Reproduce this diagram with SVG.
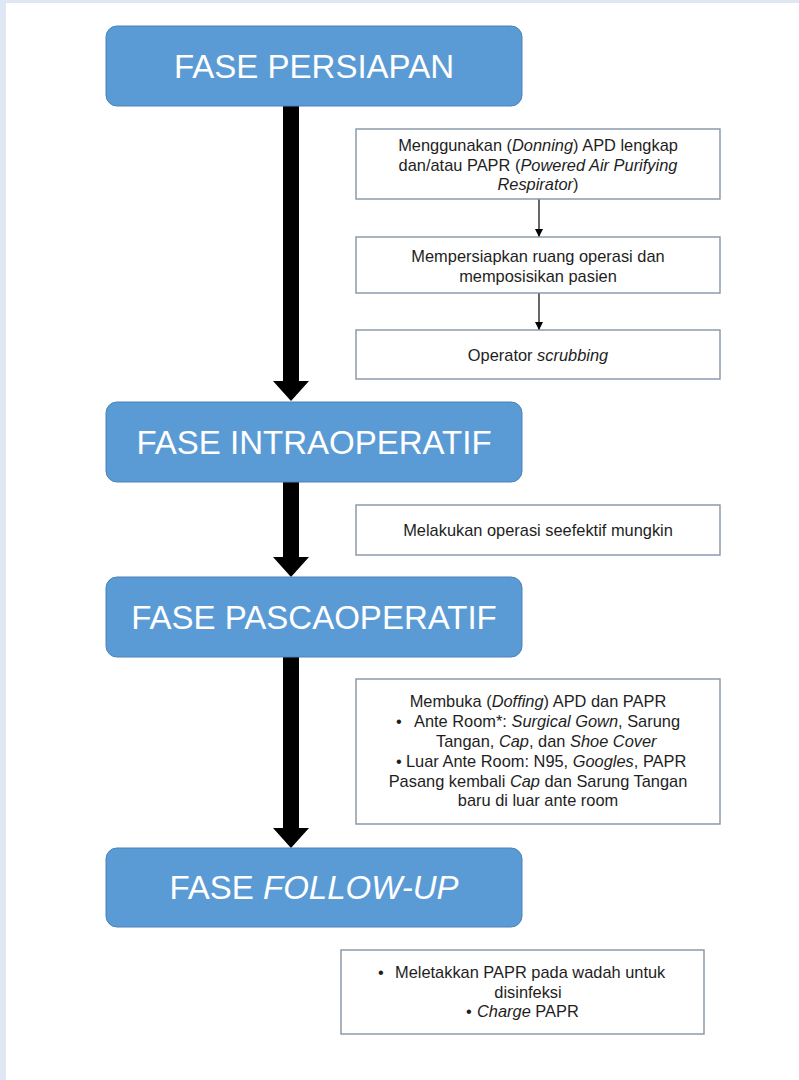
<svg xmlns="http://www.w3.org/2000/svg" width="799" height="1080" viewBox="0 0 799 1080">
<defs>
<style>
.phase rect{fill:#5b9bd5;stroke:#4a82b8;stroke-width:1}
.phase text{font-family:"Liberation Sans",Arial,sans-serif;font-size:33px;fill:#ffffff;text-anchor:middle}
.step rect{fill:#ffffff;stroke:#8494a5;stroke-width:1.4}
.step text{font-family:"Liberation Sans",Arial,sans-serif;font-size:16.4px;fill:#1e1e1e}
.c{text-anchor:middle}
.i{font-style:italic}
.big{fill:#000000}
.thin{stroke:#000000;stroke-width:1.2;fill:none}
</style>
<marker id="ah" viewBox="0 0 10 10" refX="10" refY="5" markerWidth="8" markerHeight="8" markerUnits="userSpaceOnUse" orient="auto">
<path d="M0,0 L10,5 L0,10 Z" fill="#000000"/>
</marker>
</defs>
<rect x="0" y="0" width="799" height="1080" fill="#ffffff"/>
<rect x="0" y="0" width="799" height="3" fill="#dfe7f4"/>
<rect x="0" y="0" width="6" height="1080" fill="#dfe7f4"/>

<g id="connectors">
<path class="big" d="M283,106 H299 V381 H309 L291,401 L273,381 H283 Z"/>
<path class="big" d="M283,482 H299 V557 H309 L291,577 L273,557 H283 Z"/>
<path class="big" d="M283,657 H299 V828 H309 L291,848 L273,828 H283 Z"/>
<line class="thin" x1="539" y1="199" x2="539" y2="237" marker-end="url(#ah)"/>
<line class="thin" x1="539" y1="293" x2="539" y2="330" marker-end="url(#ah)"/>
</g>

<g id="fase-persiapan" class="phase">
<rect x="106" y="26" width="416" height="80" rx="11"/>
<text x="314" y="77.5">FASE PERSIAPAN</text>
</g>
<g id="fase-intraoperatif" class="phase">
<rect x="106" y="402" width="416" height="80" rx="11"/>
<text x="314" y="453.5">FASE INTRAOPERATIF</text>
</g>
<g id="fase-pascaoperatif" class="phase">
<rect x="106" y="577" width="416" height="80" rx="11"/>
<text x="314" y="628.5">FASE PASCAOPERATIF</text>
</g>
<g id="fase-follow-up" class="phase">
<rect x="106" y="848" width="416" height="79" rx="11"/>
<text x="314" y="899">FASE <tspan font-style="italic">FOLLOW-UP</tspan></text>
</g>

<g id="step-donning" class="step">
<rect x="356" y="129" width="364" height="70"/>
<text class="c" x="538" y="151">Menggunakan (<tspan class="i">Donning</tspan>) APD lengkap</text>
<text class="c" x="538" y="170.5">dan/atau PAPR (<tspan class="i">Powered Air Purifying</tspan></text>
<text class="c" x="538" y="190"><tspan class="i">Respirator</tspan>)</text>
</g>
<g id="step-ruang" class="step">
<rect x="356" y="237" width="364" height="56"/>
<text class="c" x="538" y="262">Mempersiapkan ruang operasi dan</text>
<text class="c" x="538" y="282">memposisikan pasien</text>
</g>
<g id="step-scrubbing" class="step">
<rect x="356" y="330" width="364" height="49"/>
<text class="c" x="538" y="361">Operator <tspan class="i">scrubbing</tspan></text>
</g>
<g id="step-operasi" class="step">
<rect x="356" y="505" width="364" height="50"/>
<text class="c" x="538" y="536">Melakukan operasi seefektif mungkin</text>
</g>
<g id="step-doffing" class="step">
<rect x="356" y="679" width="364" height="145"/>
<text class="c" x="538" y="707">Membuka (<tspan class="i">Doffing</tspan>) APD dan PAPR</text>
<text x="396" y="727">•<tspan x="414">Ante Room*: </tspan><tspan class="i">Surgical Gown</tspan>, Sarung</text>
<text x="436" y="746.5">Tangan, <tspan class="i">Cap</tspan>, dan <tspan class="i">Shoe Cover</tspan></text>
<text x="396" y="766.5">•<tspan x="406">Luar Ante Room: N95, </tspan><tspan class="i">Googles</tspan>, PAPR</text>
<text class="c" x="538" y="786.5">Pasang kembali <tspan class="i">Cap</tspan> dan Sarung Tangan</text>
<text class="c" x="538" y="806">baru di luar ante room</text>
</g>
<g id="step-followup" class="step">
<rect x="341" y="950" width="363" height="84"/>
<text x="378" y="978">•<tspan x="395">Meletakkan PAPR pada wadah untuk</tspan></text>
<text class="c" x="528" y="998">disinfeksi</text>
<text x="466" y="1017">•<tspan x="477" class="i">Charge</tspan> PAPR</text>
</g>
</svg>
